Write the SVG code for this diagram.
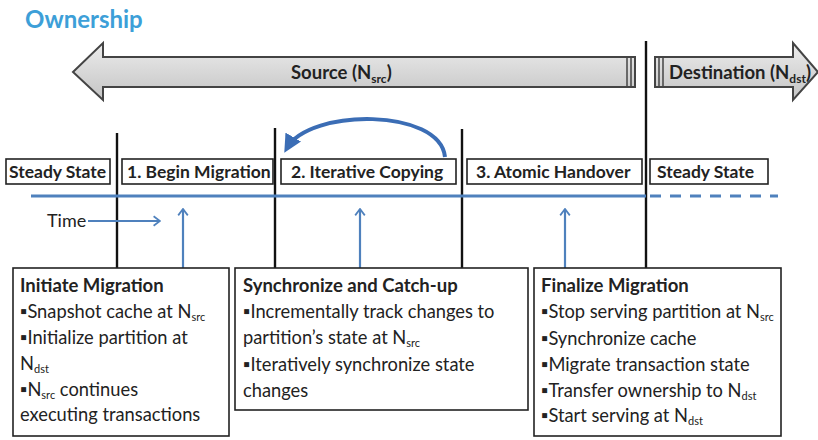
<svg xmlns="http://www.w3.org/2000/svg" width="818" height="440" viewBox="0 0 818 440">
<defs>
<linearGradient id="ag" x1="0" y1="0" x2="0" y2="1">
<stop offset="0" stop-color="#ececec"/><stop offset="1" stop-color="#c4c4c4"/>
</linearGradient>
<marker id="chev" viewBox="0 0 10 14" refX="9" refY="7" markerWidth="8" markerHeight="12" orient="auto" markerUnits="userSpaceOnUse">
<path d="M1,1 L9,7 L1,13" fill="none" stroke="#4f81bd" stroke-width="2.2"/>
</marker>
<marker id="tri" viewBox="0 0 10 10" refX="7" refY="5" markerWidth="4.5" markerHeight="4.5" orient="auto">
<path d="M0,0 L10,5 L0,10 z" fill="#3b6db5"/>
</marker>
<style>
text{font-family:Lato,"Liberation Sans",sans-serif;fill:#222}
.big{font-size:18.5px;font-weight:bold}
.lbl{font-size:17.5px;font-weight:bold}
.hd{font-size:18.5px;font-weight:bold}
.bd{font-size:18.3px}
.box{fill:#fff;stroke:#222;stroke-width:1.6}
.vl{stroke:#111;stroke-width:2.4}
.up{stroke:#4f81bd;stroke-width:2.2;marker-end:url(#chev)}
.arr{fill:url(#ag);stroke:#444;stroke-width:2;stroke-linejoin:miter}
</style>
</defs>
<text x="25" y="28" style="font-size:24px;font-weight:bold;fill:#3d9fd8">Ownership</text>

<g id="source-arrow">
<polygon class="arr" points="73,72 103,43 103,57 635,57 635,87 103,87 103,100"/>
<line x1="627" y1="58" x2="627" y2="86" stroke="#444" stroke-width="1.5"/>
<line x1="631" y1="58" x2="631" y2="86" stroke="#444" stroke-width="1.5"/>
<text class="big" x="291" y="79">Source (N<tspan font-size="12" dy="4">src</tspan><tspan dy="-4">)</tspan></text>
</g>
<g id="dest-arrow">
<polygon class="arr" points="655,57 793,57 793,43 818,72 793,100 793,87 655,87"/>
<line x1="659" y1="58" x2="659" y2="86" stroke="#444" stroke-width="1.5"/>
<line x1="663" y1="58" x2="663" y2="86" stroke="#444" stroke-width="1.5"/>
<text class="big" x="669" y="79">Destination (N<tspan font-size="12" dy="4">dst</tspan><tspan dy="-4">)</tspan></text>
</g>

<g id="connectors">
<line class="vl" x1="117" y1="133" x2="117" y2="268"/>
<line class="vl" x1="275" y1="128" x2="275" y2="268"/>
<line class="vl" x1="462" y1="129" x2="462" y2="268"/>
<line class="vl" x1="646" y1="41" x2="646" y2="268"/>
<line x1="31" y1="196" x2="646" y2="196" stroke="#4f81bd" stroke-width="3"/>
<line x1="650" y1="196" x2="778" y2="196" stroke="#4f81bd" stroke-width="3" stroke-dasharray="11,9"/>
<line class="up" x1="88" y1="221" x2="160" y2="221"/>
<line class="up" x1="183" y1="268" x2="183" y2="209"/>
<line class="up" x1="360" y1="268" x2="360" y2="209"/>
<line class="up" x1="565" y1="268" x2="565" y2="209"/>
<path d="M445,157 C440,108 310,108 287,148" fill="none" stroke="#3b6db5" stroke-width="4" marker-end="url(#tri)"/>
</g>

<g id="steady-left"><rect class="box" x="6" y="159" width="104" height="25"/><text class="lbl" x="9" y="178">Steady State</text></g>
<g id="begin"><rect class="box" x="122" y="159" width="151" height="25"/><text class="lbl" x="127" y="178">1. Begin Migration</text></g>
<g id="iter"><rect class="box" x="281" y="159" width="175" height="25"/><text class="lbl" x="291" y="178">2. Iterative Copying</text></g>
<g id="atomic"><rect class="box" x="467" y="159" width="175" height="25"/><text class="lbl" x="476" y="178">3. Atomic Handover</text></g>
<g id="steady-right"><rect class="box" x="650" y="159" width="118" height="25"/><text class="lbl" x="657" y="178">Steady State</text></g>
<text x="47" y="227" style="font-size:18px">Time</text>

<g id="initiate">
<rect class="box" x="13" y="268" width="216" height="168"/>
<text class="hd" x="20" y="292">Initiate Migration</text>
<text class="bd" x="20" y="318">▪Snapshot cache at N<tspan font-size="11" dy="3">src</tspan></text>
<text class="bd" x="20" y="344">▪Initialize partition at</text>
<text class="bd" x="20" y="370">N<tspan font-size="11" dy="3">dst</tspan></text>
<text class="bd" x="20" y="396">▪N<tspan font-size="11" dy="3">src</tspan><tspan dy="-3"> continues</tspan></text>
<text class="bd" x="20" y="421">executing transactions</text>
</g>
<g id="sync">
<rect class="box" x="235" y="268" width="293" height="142"/>
<text class="hd" x="243" y="292">Synchronize and Catch-up</text>
<text class="bd" x="243" y="318">▪Incrementally track changes to</text>
<text class="bd" x="243" y="344">partition’s state at N<tspan font-size="11" dy="3">src</tspan></text>
<text class="bd" x="243" y="371">▪Iteratively synchronize state</text>
<text class="bd" x="243" y="397">changes</text>
</g>
<g id="finalize">
<rect class="box" x="534" y="268" width="247" height="168"/>
<text class="hd" x="541" y="292">Finalize Migration</text>
<text class="bd" x="541" y="318">▪Stop serving partition at N<tspan font-size="11" dy="3">src</tspan></text>
<text class="bd" x="541" y="345">▪Synchronize cache</text>
<text class="bd" x="541" y="371">▪Migrate transaction state</text>
<text class="bd" x="541" y="397">▪Transfer ownership to N<tspan font-size="11" dy="3">dst</tspan></text>
<text class="bd" x="541" y="422">▪Start serving at N<tspan font-size="11" dy="3">dst</tspan></text>
</g>
</svg>
